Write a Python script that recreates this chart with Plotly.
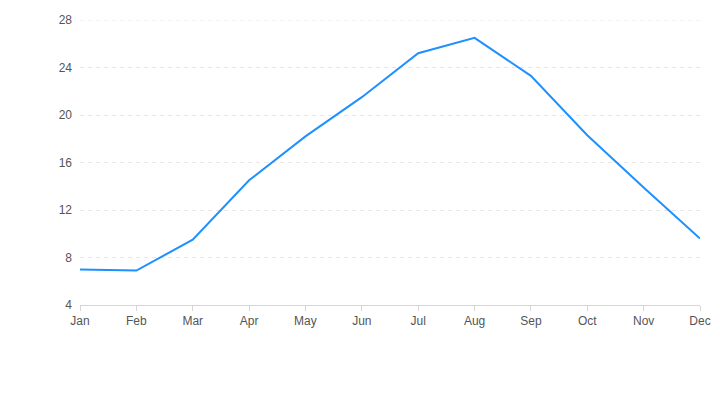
import plotly.graph_objects as go

months = ["Jan", "Feb", "Mar", "Apr", "May", "Jun", "Jul", "Aug", "Sep", "Oct", "Nov", "Dec"]
temps = [7.0, 6.9, 9.5, 14.5, 18.2, 21.5, 25.2, 26.5, 23.3, 18.3, 13.9, 9.6]
y_ticks = [4, 8, 12, 16, 20, 24, 28]

grid_color = "#e8e8e8"
grid_dash = "4px,4px"

fig = go.Figure()
fig.add_trace(go.Scatter(
    x=list(range(len(months))), y=temps, mode="lines",
    line=dict(color="#1E90FF", width=2), hoverinfo="skip", showlegend=False,
))
# top grid line (plotly hides grid lines sitting on the plot edge)
fig.add_shape(type="line", xref="paper", yref="y", x0=0, x1=1,
              y0=y_ticks[-1], y1=y_ticks[-1], layer="below",
              line=dict(color=grid_color, width=1, dash=grid_dash))
fig.update_layout(
    width=720, height=400,
    margin=dict(l=72, r=28, t=12, b=103),
    paper_bgcolor="white", plot_bgcolor="white",
    font=dict(family="Liberation Sans, Arial, sans-serif", size=12, color="#555"),
    xaxis=dict(
        tickmode="array", tickvals=list(range(len(months))), ticktext=months,
        range=[0, len(months) - 1], showgrid=False, zeroline=False,
        showline=True, linecolor="#d6d6d6", linewidth=1,
        ticks="outside", ticklen=5, tickcolor="#d6d6d6", automargin=False,
    ),
    yaxis=dict(
        tickmode="array", tickvals=y_ticks, range=[y_ticks[0], y_ticks[-1]],
        showgrid=True, gridcolor=grid_color, griddash=grid_dash, gridwidth=1,
        zeroline=False, showline=False, ticks="", ticklabelstandoff=7,
        automargin=False,
    ),
)
fig.write_html("out.html")
